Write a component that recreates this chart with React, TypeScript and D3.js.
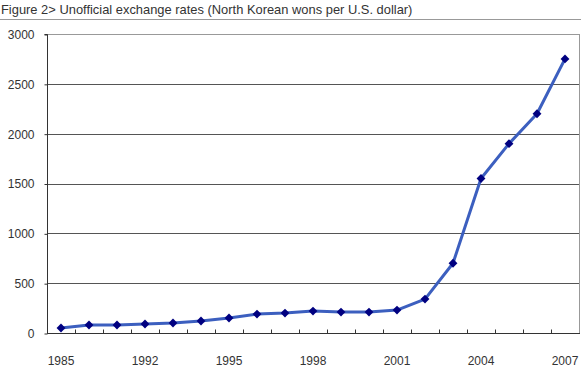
import React, { useRef, useEffect } from 'react';
import * as d3 from 'd3';

// categories on the x axis (only every 3rd one gets a label)
const years = ['1985', '1987', '1990', '1992', '1993', '1994', '1995', '1996', '1997', '1998',
  '1999', '2000', '2001', '2002', '2003', '2004', '2005', '2006', '2007'];
const rates = [50, 80, 80, 90, 100, 120, 150, 190, 200, 220, 210, 210, 230, 340, 700, 1550, 1900, 2200, 2750];
const yTicks = [0, 500, 1000, 1500, 2000, 2500, 3000];
const title = 'Figure 2> Unofficial exchange rates (North Korean wons per U.S. dollar)';

const W = 581;
const H = 368;

const Chart = () => {
  const ref = useRef<SVGSVGElement>(null);

  useEffect(() => {
    const svg = d3.select(ref.current);
    svg.selectAll('*').remove();
    const font = '"Liberation Sans", Arial, sans-serif';

    const left = 47, right = 579, top = 34, bottom = 333;

    const x = d3.scaleBand().domain(years).range([left, right]);
    const y = d3.scaleLinear().domain([0, 3000]).range([bottom, top]);

    svg.append('rect').attr('width', W).attr('height', H).attr('fill', '#fff');

    // title + rule
    svg.append('text')
      .attr('x', 1).attr('y', 14)
      .attr('font-family', font).attr('font-size', 12.9).attr('fill', '#333')
      .text(title);
    svg.append('line')
      .attr('x1', 0).attr('x2', W).attr('y1', 19.5).attr('y2', 19.5)
      .attr('stroke', '#999').attr('stroke-width', 1);

    // gridlines
    svg.append('g').selectAll('line')
      .data(yTicks.filter(d => d > 0))
      .enter().append('line')
      .attr('x1', left).attr('x2', right)
      .attr('y1', d => Math.round(y(d)) + 0.5).attr('y2', d => Math.round(y(d)) + 0.5)
      .attr('stroke', d => (d === 3000 ? '#999' : '#555'));

    // right border
    svg.append('line')
      .attr('x1', right + 0.5).attr('x2', right + 0.5)
      .attr('y1', top).attr('y2', bottom)
      .attr('stroke', '#999');

    // y axis
    const yAxis = svg.append('g').attr('transform', `translate(${left + 0.5},0.5)`)
      .call(d3.axisLeft(y).tickValues(yTicks).tickSize(3).tickPadding(10).tickFormat(d3.format('d')));
    yAxis.select('.domain').attr('stroke', '#333').attr('d', `M-3,${Math.round(top)}H0V${bottom}`);
    yAxis.selectAll('.tick line').attr('stroke', '#333');
    yAxis.selectAll('text').attr('font-family', font).attr('font-size', 12).attr('fill', '#333');

    // x axis
    const xAxis = svg.append('g').attr('transform', `translate(0,${bottom + 0.5})`);
    xAxis.append('line')
      .attr('x1', left).attr('x2', right + 1)
      .attr('stroke', '#333');
    xAxis.selectAll('.tk')
      .data(years.slice(1))
      .enter().append('line')
      .attr('class', 'tk')
      .attr('x1', d => Math.round(x(d)!) + 0.5).attr('x2', d => Math.round(x(d)!) + 0.5)
      .attr('y1', 0).attr('y2', -4)
      .attr('stroke', '#333');
    xAxis.selectAll('text')
      .data(years.filter((_, i) => i % 3 === 0))
      .enter().append('text')
      .attr('x', d => x(d)! + x.bandwidth() / 2)
      .attr('y', 31.5)
      .attr('text-anchor', 'middle')
      .attr('font-family', font).attr('font-size', 12).attr('fill', '#333')
      .text(d => d);

    // line
    const line = d3.line<number>()
      .x((_, i) => x(years[i])! + x.bandwidth() / 2)
      .y(d => y(d));
    svg.append('path')
      .datum(rates)
      .attr('d', line)
      .attr('fill', 'none')
      .attr('stroke', '#3c5fbf')
      .attr('stroke-width', 3)
      .attr('stroke-linejoin', 'round');

    // markers
    const diamond = d3.symbol().type(d3.symbolDiamond2).size(50);
    svg.append('g').selectAll('path')
      .data(rates)
      .enter().append('path')
      .attr('d', diamond)
      .attr('transform', (d, i) => `translate(${x(years[i])! + x.bandwidth() / 2},${y(d)})`)
      .attr('fill', '#000080');
  }, []);

  return <svg ref={ref} width={W} height={H} style={{ position: 'absolute', left: 0, top: 0 }}></svg>;
};

export default function App() {
  return (
    <div>
      <Chart />
    </div>
  );
}
